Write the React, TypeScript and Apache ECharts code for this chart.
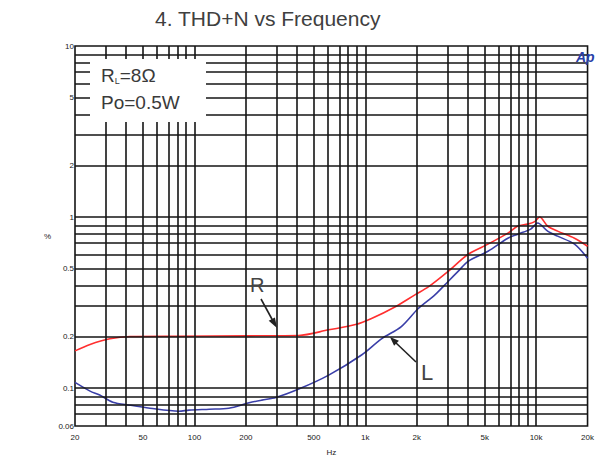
import React, { useEffect, useRef } from "react";
import * as echarts from "echarts";

// ---- data ----
const FREQ_R = [20, 24.5, 32, 42, 81, 209, 408, 611, 877, 1088, 1500, 1963, 2338, 3055, 4000, 5226, 6833, 7812, 8932, 9812, 10490, 11675, 13357, 16780, 20000];
const THD_R = [0.165, 0.18, 0.194, 0.2, 0.201, 0.202, 0.203, 0.219, 0.235, 0.255, 0.299, 0.352, 0.39, 0.481, 0.606, 0.694, 0.805, 0.885, 0.909, 0.94, 1.0, 0.885, 0.827, 0.752, 0.675];

const FREQ_L = [20, 24.5, 27.9, 33.3, 41.9, 54.9, 81, 93, 122, 159, 209, 248, 300, 408, 611, 951, 1244, 1626, 2043, 2566, 3055, 3493, 4000, 5226, 6833, 7812, 9292, 10208, 11675, 13357, 16780, 20000];
const THD_L = [0.108, 0.096, 0.091, 0.0827, 0.0794, 0.0762, 0.0732, 0.0743, 0.0752, 0.0762, 0.082, 0.085, 0.088, 0.0986, 0.119, 0.156, 0.194, 0.229, 0.292, 0.352, 0.42, 0.481, 0.551, 0.631, 0.752, 0.794, 0.85, 0.922, 0.827, 0.773, 0.694, 0.574];

const X_TICKS = [20, 50, 100, 200, 500, 1000, 2000, 5000, 10000, 20000];
const X_TICK_LABELS = ["20", "50", "100", "200", "500", "1k", "2k", "5k", "10k", "20k"];
const Y_TICKS = [0.06, 0.1, 0.2, 0.5, 1, 2, 5, 10];
const Y_TICK_LABELS = ["0.06", "0.1", "0.2", "0.5", "1", "2", "5", "10"];

const X_GRID = [30, 40, 50, 60, 70, 80, 90, 100, 200, 300, 400, 500, 600, 700, 800, 900, 1000, 2000, 3000, 4000, 5000, 6000, 7000, 8000, 9000, 10000];
const Y_GRID = [0.07, 0.08, 0.09, 0.1, 0.2, 0.3, 0.4, 0.5, 0.6, 0.7, 0.8, 0.9, 1, 2, 3, 4, 5, 6, 7, 8, 9];

const X_MIN = 20, X_MAX = 20000, Y_MIN = 0.06, Y_MAX = 10;

const lg = (v: number) => Math.log10(v);
const nearestLabel = (v: number, ticks: number[], labels: string[]) => {
  let best = 0, bd = Infinity;
  ticks.forEach((t, i) => {
    const d = Math.abs(lg(t) - v);
    if (d < bd) { bd = d; best = i; }
  });
  return bd < 1e-6 ? labels[best] : "";
};

export default function App() {
  const ref = useRef<HTMLDivElement>(null);
  useEffect(() => {
    if (!ref.current) return;
    const chart = echarts.init(ref.current, null, { renderer: "svg" });
    const font = "Liberation Sans, Arial, sans-serif";
    const gridLine = { color: "#151515", width: 1.6, type: "solid" as const };
    chart.setOption({
      animation: false,
      backgroundColor: "#ffffff",
      title: {
        text: "4. THD+N vs Frequency",
        left: 150,
        top: 3,
        textStyle: { fontSize: 21, fontWeight: "normal", color: "#404040", fontFamily: font, letterSpacing: 2 },
      },
      grid: { left: 75, right: 7, top: 46, bottom: 36, show: true, borderColor: "#151515", borderWidth: 1.6, backgroundColor: "transparent" },
      xAxis: {
        type: "value",
        min: lg(X_MIN),
        max: lg(X_MAX),
        name: "Hz",
        nameLocation: "middle",
        nameGap: 22,
        nameTextStyle: { fontSize: 8, color: "#222", fontFamily: font },
        axisLine: { show: false },
        axisTick: { show: false },
        splitLine: { show: false },
        axisLabel: {
          customValues: X_TICKS.map(lg),
          formatter: (v: number) => nearestLabel(v, X_TICKS, X_TICK_LABELS),
          fontSize: 8,
          color: "#222",
          fontFamily: font,
          margin: 7,
        },
      },
      yAxis: {
        type: "value",
        min: lg(Y_MIN),
        max: lg(Y_MAX),
        name: "%",
        nameLocation: "middle",
        nameGap: 24,
        nameRotate: 0,
        nameTextStyle: { fontSize: 8, color: "#222", fontFamily: font },
        axisLine: { show: false },
        axisTick: { show: false },
        splitLine: { show: false },
        axisLabel: {
          customValues: Y_TICKS.map(lg),
          formatter: (v: number) => nearestLabel(v, Y_TICKS, Y_TICK_LABELS),
          fontSize: 8,
          color: "#222",
          fontFamily: font,
          margin: 1,
        },
      },
      series: [
        {
          type: "line",
          data: [],
          z: 1,
          silent: true,
          markLine: {
            silent: true,
            symbol: ["none", "none"],
            label: { show: false },
            lineStyle: gridLine,
            emphasis: { disabled: true },
            data: [
              ...X_GRID.map((v) => ({ xAxis: lg(v) })),
              ...Y_GRID.map((v) => ({ yAxis: lg(v) })),
            ],
          },
        },
        {
          name: "R",
          type: "line",
          z: 3,
          showSymbol: false,
          smooth: 0.3,
          data: FREQ_R.map((f, i) => [lg(f), lg(THD_R[i])]),
          lineStyle: { color: "#ff2f2f", width: 1.6 },
          itemStyle: { color: "#ff2f2f" },
        },
        {
          name: "L",
          type: "line",
          z: 3,
          showSymbol: false,
          smooth: 0.3,
          data: FREQ_L.map((f, i) => [lg(f), lg(THD_L[i])]),
          lineStyle: { color: "#3a3fa8", width: 1.6 },
          itemStyle: { color: "#3a3fa8" },
        },
      ],
      graphic: [
        { type: "rect", z: 100, shape: { x: 90, y: 59, width: 116, height: 63 }, style: { fill: "#ffffff" } },
        {
          type: "text",
          z: 101,
          x: 101,
          y: 66,
          style: {
            text: "{r|R}{s|L}{r|=8Ω}",
            rich: {
              r: { fontSize: 19, fill: "#3a3a3a", fontFamily: font },
              s: { fontSize: 9, fill: "#3a3a3a", fontFamily: font, padding: [10, 0, 0, 0] },
            },
          },
        },
        { type: "text", z: 101, x: 101, y: 93, style: { text: "Po=0.5W", fontSize: 19, fill: "#3a3a3a", fontFamily: font } },
        { type: "text", z: 101, x: 250, y: 275, style: { text: "R", fontSize: 20, fill: "#444", fontFamily: font } },
        { type: "line", z: 101, shape: { x1: 261, y1: 299, x2: 273, y2: 321 }, style: { stroke: "#222", lineWidth: 1.6 } },
        { type: "polygon", z: 101, shape: { points: [[277, 328], [268.7, 320.7], [274.9, 317.5]] }, style: { fill: "#222" } },
        { type: "text", z: 101, x: 421, y: 361, style: { text: "L", fontSize: 22, fill: "#444", fontFamily: font } },
        { type: "line", z: 101, shape: { x1: 416, y1: 362, x2: 395, y2: 342 }, style: { stroke: "#222", lineWidth: 1.6 } },
        { type: "polygon", z: 101, shape: { points: [[390, 337], [398.9, 340.7], [394.1, 345.7]] }, style: { fill: "#222" } },
        { type: "text", z: 101, x: 576, y: 50, style: { text: "Ap", fontSize: 14, fontWeight: "bold", fontStyle: "italic", fill: "#2a3fa8", fontFamily: font } },
      ],
    });
    return () => chart.dispose();
  }, []);
  return <div ref={ref} style={{ position: "fixed", left: 0, top: 0, width: 597, height: 462 }} />;
}
